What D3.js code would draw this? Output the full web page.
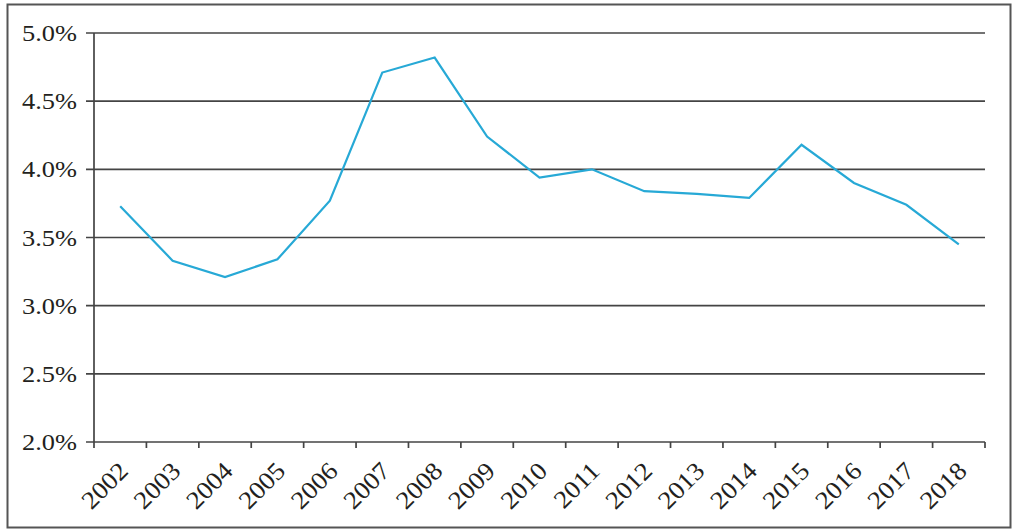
<!DOCTYPE html>
<html><head><meta charset="utf-8">
<script src="https://cdn.jsdelivr.net/npm/d3@7"></script>
<style>
body{margin:0;background:#fff;}
svg{display:block;}
</style></head>
<body><svg id="c" width="1014" height="531"></svg>
<script>
const years = ["2002","2003","2004","2005","2006","2007","2008","2009","2010","2011","2012","2013","2014","2015","2016","2017","2018"];
const values = [3.73,3.33,3.21,3.34,3.77,4.71,4.82,4.24,3.94,4.00,3.84,3.82,3.79,4.18,3.90,3.74,3.45];
const yTicks = [2.0,2.5,3.0,3.5,4.0,4.5,5.0];

const FONT = "'Liberation Serif','Times New Roman',Times,serif";
const svg = d3.select("#c");
const L = 94, R = 985, T = 33, B = 442;
const x = d3.scaleBand().domain(years).range([L, R]).padding(0);
const y = d3.scaleLinear().domain([2, 5]).range([B, T]);

// frame
svg.append("rect").attr("x",7.5).attr("y",4.5).attr("width",1003).attr("height",523)
  .attr("fill","none").attr("stroke","#555").attr("stroke-width",2);

// gridlines + y ticks
svg.append("g").selectAll("line").data(yTicks).join("line")
  .attr("x1",86).attr("x2",R).attr("y1",d=>y(d)).attr("y2",d=>y(d))
  .attr("stroke","#444").attr("stroke-width",1.7);

// y labels
svg.append("g").selectAll("text").data(yTicks).join("text")
  .attr("transform",d=>`translate(77,${y(d)+8}) scale(1.1,1)`)
  .attr("text-anchor","end").attr("font-size",24)
  .attr("font-family",FONT).attr("fill","#231f20")
  .text(d=>d.toFixed(1)+"%");

// y axis line
svg.append("line").attr("x1",L).attr("x2",L).attr("y1",T).attr("y2",B)
  .attr("stroke","#444").attr("stroke-width",1.7);

// x ticks at band boundaries
const bounds = years.map(d=>x(d)).concat([R]);
svg.append("g").selectAll("line").data(bounds).join("line")
  .attr("x1",d=>d).attr("x2",d=>d).attr("y1",B).attr("y2",B+6)
  .attr("stroke","#444").attr("stroke-width",1.7);

// x labels
svg.append("g").selectAll("text").data(years).join("text")
  .attr("transform",d=>`translate(${x(d)+x.bandwidth()/2-3},${B+18}) rotate(-45) scale(1.08,1)`)
  .attr("text-anchor","end").attr("dy","0.7em").attr("font-size",25)
  .attr("font-family",FONT).attr("fill","#231f20")
  .text(d=>d);

// line
const line = d3.line().x((d,i)=>x(years[i])+x.bandwidth()/2).y(d=>y(d));
svg.append("path").datum(values).attr("d",line)
  .attr("fill","none").attr("stroke","#27a9d6").attr("stroke-width",2.2);
</script></body></html>
